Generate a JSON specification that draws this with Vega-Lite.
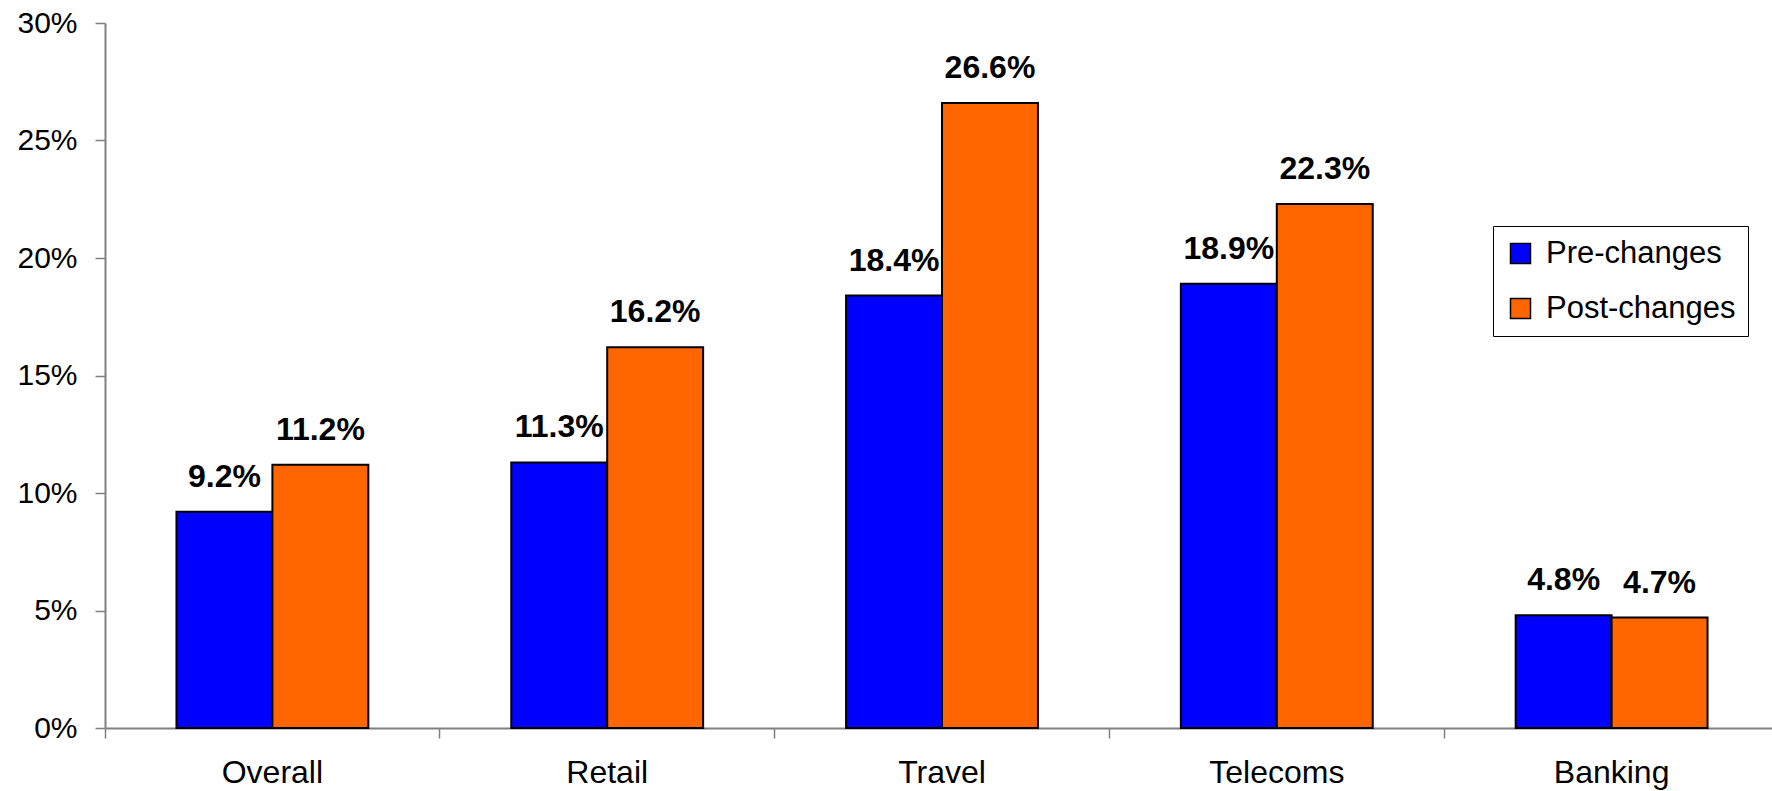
{
  "$schema": "https://vega.github.io/schema/vega-lite/v6.json",
  "width": 1674,
  "height": 705,
  "autosize": {"type": "none"},
  "padding": {"left": 105, "top": 23, "right": 0, "bottom": 63},
  "background": "white",
  "config": {
    "view": {"stroke": null},
    "font": "Liberation Sans"
  },
  "data": {
    "values": [
      {"category": "Overall", "series": "Pre-changes", "value": 0.092},
      {"category": "Overall", "series": "Post-changes", "value": 0.112},
      {"category": "Retail", "series": "Pre-changes", "value": 0.113},
      {"category": "Retail", "series": "Post-changes", "value": 0.162},
      {"category": "Travel", "series": "Pre-changes", "value": 0.184},
      {"category": "Travel", "series": "Post-changes", "value": 0.266},
      {"category": "Telecoms", "series": "Pre-changes", "value": 0.189},
      {"category": "Telecoms", "series": "Post-changes", "value": 0.223},
      {"category": "Banking", "series": "Pre-changes", "value": 0.048},
      {"category": "Banking", "series": "Post-changes", "value": 0.047}
    ]
  },
  "encoding": {
    "x": {
      "field": "category",
      "type": "nominal",
      "sort": ["Overall", "Retail", "Travel", "Telecoms", "Banking"],
      "scale": {"paddingInner": 0, "paddingOuter": 0},
      "axis": {
        "title": null,
        "labelAngle": 0,
        "labelFont": "Liberation Sans",
        "labelFontSize": 32,
        "labelColor": "#000",
        "labelPadding": 19,
        "bandPosition": 0,
        "tickSize": 10,
        "tickColor": "#808080",
        "tickWidth": 1.5,
        "domainColor": "#808080",
        "domainWidth": 2
      }
    },
    "xOffset": {
      "field": "series",
      "type": "nominal",
      "sort": ["Pre-changes", "Post-changes"],
      "scale": {"paddingOuter": 0.745, "paddingInner": 0}
    },
    "y": {
      "field": "value",
      "type": "quantitative",
      "scale": {"domain": [0, 0.3]},
      "axis": {
        "title": null,
        "values": [0, 0.05, 0.1, 0.15, 0.2, 0.25, 0.3],
        "format": ".0%",
        "labelFont": "Liberation Sans",
        "labelFontSize": 30,
        "labelColor": "#000",
        "labelPadding": 18,
        "tickSize": 10,
        "tickColor": "#808080",
        "tickWidth": 1.5,
        "domainColor": "#808080",
        "domainWidth": 2,
        "grid": false
      }
    }
  },
  "layer": [
    {
      "mark": {"type": "bar", "stroke": "#000", "strokeWidth": 2},
      "encoding": {
        "color": {
          "field": "series",
          "type": "nominal",
          "sort": ["Pre-changes", "Post-changes"],
          "scale": {"domain": ["Pre-changes", "Post-changes"], "range": ["#0000FF", "#FF6600"]},
          "legend": {
            "title": null,
            "orient": "none",
            "legendX": 1388,
            "legendY": 203,
            "padding": 12,
            "strokeColor": "#000",
            "fillColor": "#fff",
            "symbolType": "square",
            "symbolSize": 400,
            "symbolStrokeColor": "#000",
            "symbolStrokeWidth": 1.5,
            "symbolOpacity": 1,
            "labelFont": "Liberation Sans",
            "labelFontSize": 31,
            "labelColor": "#000",
            "labelOffset": 10,
            "rowPadding": 23,
            "labelLimit": 400
          }
        }
      }
    },
    {
      "mark": {
        "type": "text",
        "font": "Liberation Sans",
        "fontSize": 32,
        "fontWeight": "bold",
        "color": "#000",
        "baseline": "alphabetic",
        "dy": -25
      },
      "encoding": {
        "text": {"field": "value", "type": "quantitative", "format": ".1%"}
      }
    }
  ]
}
